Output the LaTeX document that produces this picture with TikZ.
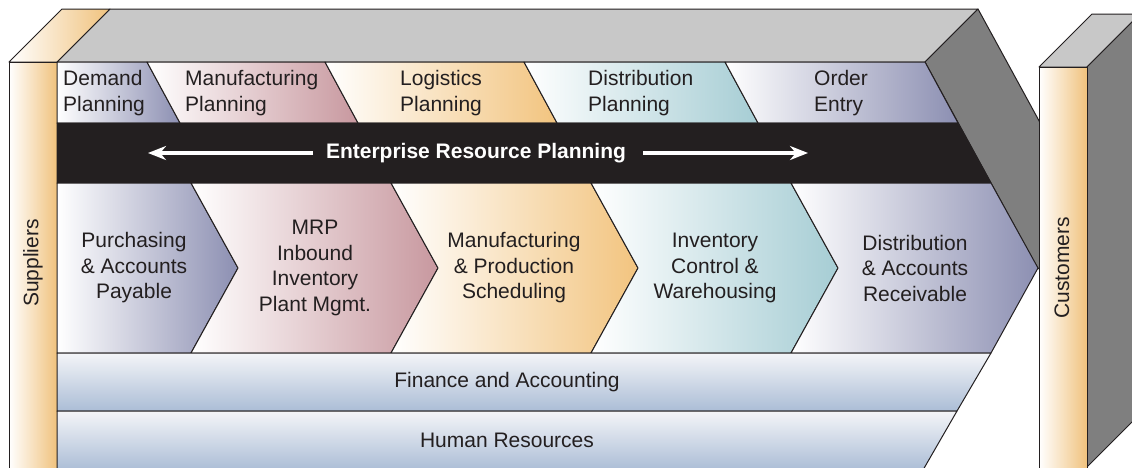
\documentclass[tikz,border=0pt]{standalone}
\usepackage{fontspec}
\setmainfont{Liberation Sans}
\usetikzlibrary{arrows.meta}
\definecolor{ink}{HTML}{231F20}
\definecolor{topgray}{HTML}{C8C8C8}
\definecolor{sidegray}{HTML}{7F7F7F}
\definecolor{cslate}{HTML}{8C8FB2}
\definecolor{cmauve}{HTML}{C8989F}
\definecolor{camber}{HTML}{F2C47F}
\definecolor{cteal}{HTML}{A6CDD4}
\definecolor{csteel}{HTML}{ABBDD6}
\definecolor{cpale}{HTML}{F4F5F8}
\definecolor{corange}{HTML}{F0C27D}
\begin{document}
\begin{tikzpicture}[x=1pt,y=-1pt,line join=round,
  edge/.style={draw=ink,line width=1pt},
  lbl/.style={font=\fontsize{21}{25.5}\selectfont,text=ink,align=center,inner sep=0pt},
  lbll/.style={lbl,align=left,anchor=west},
  pillar/.style={edge,left color=white,right color=corange},
  band/.style={edge,top color=cpale,bottom color=csteel},
  warrow/.style={draw=white,line width=3.5pt,-{Stealth[length=18pt,width=14pt]}}]
\useasboundingbox (0,0) rectangle (1132,467);
\begin{scope}
\clip (0,0) rectangle (1132,467);
% top face of main block
\path[edge,fill=topgray] (57,62) -- (110,9) -- (978,9) -- (925,62) -- cycle;
% suppliers pillar
\path[pillar] (9,62) -- (57,62) -- (110,9) -- (62,9) -- cycle;
\path[pillar] (9,62) rectangle (57,470);
% side face of main block
\path[edge,fill=sidegray] (925,62) -- (978,9) -- (1091,216) -- (1038,269) -- cycle;
% top planning row
\path[edge,left color=white,right color=cslate] (57,62) -- (147,62) -- (180,123) -- (57,123) -- cycle;
\path[edge,left color=white,right color=cmauve] (147,62) -- (325,62) -- (358,123) -- (180,123) -- cycle;
\path[edge,left color=white,right color=camber] (325,62) -- (524,62) -- (557,123) -- (358,123) -- cycle;
\path[edge,left color=white,right color=cteal] (524,62) -- (725,62) -- (758,123) -- (557,123) -- cycle;
\path[edge,left color=white,right color=cslate] (725,62) -- (925,62) -- (958,123) -- (758,123) -- cycle;
% black bar
\path[edge,fill=ink] (57,123) -- (958,123) -- (991,183) -- (57,183) -- cycle;
% chevrons
\path[edge,left color=white,right color=cslate] (57,183) -- (191,183) -- (238,268) -- (191,353) -- (57,353) -- cycle;
\path[edge,left color=white,right color=cmauve] (191,183) -- (391,183) -- (438,268) -- (391,353) -- (191,353) -- (238,268) -- cycle;
\path[edge,left color=white,right color=camber] (391,183) -- (591,183) -- (638,268) -- (591,353) -- (391,353) -- (438,268) -- cycle;
\path[edge,left color=white,right color=cteal] (591,183) -- (791,183) -- (838,268) -- (791,353) -- (591,353) -- (638,268) -- cycle;
\path[edge,left color=white,right color=cslate] (791,183) -- (991,183) -- (1038,268) -- (991,353) -- (791,353) -- (838,268) -- cycle;
% bands
\path[band] (57,353) -- (991,353) -- (957,411) -- (57,411) -- cycle;
\path[band] (57,411) -- (957,411) -- (923,470) -- (57,470) -- cycle;
% customers pillar
\path[edge,fill=topgray] (1039,67) -- (1087,67) -- (1140,14) -- (1092,14) -- cycle;
\path[edge,fill=sidegray] (1087,67) -- (1140,14) -- (1140,414) -- (1087,467) -- cycle;
\path[pillar] (1039,67) rectangle (1087,470);
\end{scope}
% labels, top row
\node[lbll] (dp) at (63,93) {Demand\\Planning};
\node[lbll] (mp) at (185,93) {Manufacturing\\Planning};
\node[lbll] (lp) at (400,93) {Logistics\\Planning};
\node[lbll] (tp) at (588,93) {Distribution\\Planning};
\node[lbll] (oe) at (814,93) {Order\\Entry};
% black bar
\node[lbl,text=white,font=\fontsize{21}{25.5}\selectfont\bfseries] (erp) at (476,153) {Enterprise Resource Planning};
\coordinate (al1) at (313,153);
\coordinate (al2) at (148,153);
\coordinate (ar1) at (643,153);
\coordinate (ar2) at (808,153);
\draw[warrow] (al1) -- (al2);
\draw[warrow] (ar1) -- (ar2);
% chevron labels
\node[lbl] (pur) at (134,268) {Purchasing\\\& Accounts\\Payable};
\node[lbl] (mrp) at (315,268) {MRP\\Inbound\\Inventory\\Plant Mgmt.};
\node[lbl] (mfg) at (514,268) {Manufacturing\\\& Production\\Scheduling};
\node[lbl] (inv) at (715,268) {Inventory\\Control \&\\Warehousing};
\node[lbl] (dis) at (915,268) {Distribution\\\& Accounts\\Receivable};
% bands
\node[lbl] (fin) at (507,382) {Finance and Accounting};
\node[lbl] (hr) at (507,440) {Human Resources};
% pillars
\node[lbl,rotate=90] (sup) at (33,263) {Suppliers};
\node[lbl,rotate=90] (cus) at (1062,268) {Customers};
\end{tikzpicture}
\end{document}
